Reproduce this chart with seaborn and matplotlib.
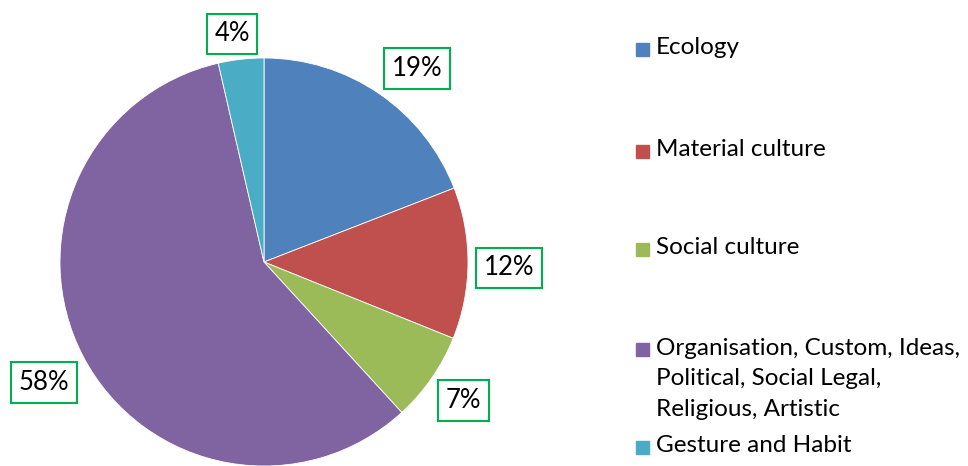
import matplotlib
matplotlib.use("Agg")
import matplotlib.pyplot as plt
import matplotlib.patches as mpatches
import seaborn as sns
import numpy as np

categories = ["Ecology", "Material culture", "Social culture",
              "Organisation, Custom, Ideas,\nPolitical, Social Legal,\nReligious, Artistic",
              "Gesture and Habit"]
shares = [19.1, 12.0, 7.1, 58.2, 3.6]
colors = ["#4F81BD", "#C0504D", "#9BBB59", "#8064A2", "#4BACC6"]

sns.set_theme(style="white")
plt.rcParams['font.family'] = ['Lato', 'DejaVu Sans']

W, H = 968, 466
fig = plt.figure(figsize=(W / 100, H / 100), dpi=100)

# pie axes: center (264, 262) px, radius 204 px
cx, cy, r = 264, 262, 204
ax = fig.add_axes([(cx - r) / W, (H - cy - r) / H, 2 * r / W, 2 * r / H])

wedges, _ = ax.pie(shares, colors=sns.color_palette(colors), startangle=90,
                   counterclock=False, radius=1,
                   wedgeprops=dict(edgecolor="white", linewidth=0.6))
ax.set_xlim(-1, 1)
ax.set_ylim(-1, 1)
ax.set_aspect("equal")
ax.axis("off")

# data labels outside the slices in green-edged boxes
label_dist = [1.21, 1.2, 1.19, 1.23, 1.13]
label_turn = [-4, -1, 0, 1, 1.5]
for w, v, d, t in zip(wedges, shares, label_dist, label_turn):
    ang = np.deg2rad((w.theta1 + w.theta2) / 2 + t)
    ax.text(d * np.cos(ang), d * np.sin(ang), f"{v:.0f}%", ha="center", va="center",
            fontsize=18.5, color="black", clip_on=False,
            bbox=dict(boxstyle="square,pad=0.3", fc="white", ec="#00B050", lw=1.5))

# legend, placed manually like the Excel layout
legend_y = [49, 151, 249, 349, 447]
for name, c, y in zip(categories, colors, legend_y):
    fig.patches.append(mpatches.Rectangle((636 / W, (H - y - 6.5) / H), 13 / W, 13 / H,
                                          transform=fig.transFigure, color=c))
    if "\n" in name:
        fig.text(656 / W, (H - y + 11) / H, name, ha="left", va="top",
                 fontsize=17.5, color="black", linespacing=1.55)
    else:
        fig.text(656 / W, (H - y + 1) / H, name, ha="left", va="center",
                 fontsize=17.5, color="black")

fig.savefig("out.png", dpi=100)
